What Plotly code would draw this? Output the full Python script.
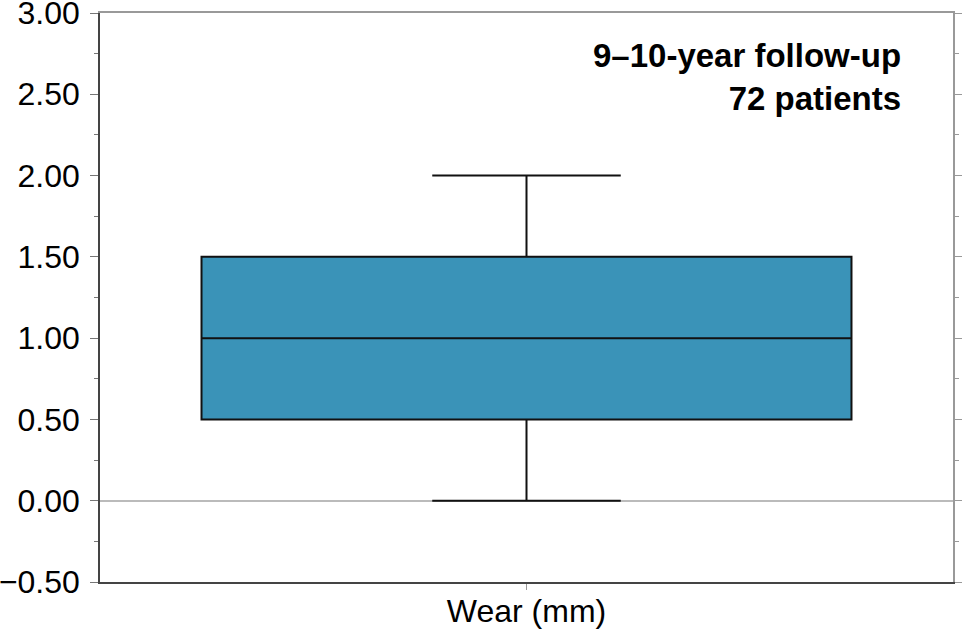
import plotly.graph_objects as go

categories = ["Wear (mm)"]
q1 = [0.5]
median = [1.0]
q3 = [1.5]
lowerfence = [0.0]
upperfence = [2.0]
annotation_lines = ["9–10-year follow-up", "72 patients"]

FONT = "Liberation Sans, Arial, Helvetica, sans-serif"

fig = go.Figure()
fig.add_trace(go.Box(
    x=categories, q1=q1, median=median, q3=q3,
    lowerfence=lowerfence, upperfence=upperfence,
    fillcolor="#3a93b8", line=dict(color="#111111", width=2),
    width=0.762, whiskerwidth=0.29, boxpoints=False, showlegend=False,
    hoverinfo="skip",
))
fig.add_trace(go.Scatter(x=[0], y=[0], xaxis="x2", yaxis="y2", mode="markers",
                         marker=dict(opacity=0), showlegend=False, hoverinfo="skip"))

fig.update_layout(
    width=965, height=637,
    margin=dict(l=100, r=12, t=13, b=55),
    paper_bgcolor="white", plot_bgcolor="white",
    font=dict(family=FONT, size=32, color="#000000"),
    xaxis=dict(
        range=[-0.5, 0.5], showline=True, linecolor="#444444", linewidth=1.5,
        ticks="outside", ticklen=6, tickcolor="#999999", showgrid=False,
        zeroline=False, tickfont=dict(size=32), fixedrange=True, automargin=False,
        ticklabelstandoff=-6,
    ),
    yaxis=dict(
        range=[-0.5, 3.0], dtick=0.5, tick0=0, tickformat=".2f",
        showline=True, linecolor="#444444", linewidth=1.5,
        ticks="outside", ticklen=8, tickcolor="#777777",
        minor=dict(dtick=0.25, ticks="outside", ticklen=4, tickcolor="#777777"),
        showgrid=False, zeroline=True, zerolinecolor="#bbbbbb", zerolinewidth=1.5,
        tickfont=dict(size=32), ticklabelstandoff=4, automargin=False,
        ticklabeloverflow="allow",
    ),
    xaxis2=dict(
        overlaying="x", side="top", range=[-0.5, 0.5], showline=True,
        linecolor="#999999", linewidth=1.5, showticklabels=False, ticks="",
        showgrid=False, zeroline=False, automargin=False,
    ),
    yaxis2=dict(
        overlaying="y", side="right", range=[-0.5, 3.0], dtick=0.5, tick0=0,
        showline=True, linecolor="#999999", linewidth=1.5, showticklabels=False,
        ticks="outside", ticklen=7, tickcolor="#999999",
        minor=dict(dtick=0.25, ticks="outside", ticklen=4, tickcolor="#999999"),
        showgrid=False, zeroline=False, automargin=False,
    ),
    annotations=[dict(
        xref="paper", yref="paper", x=0.9414, y=0.962, xanchor="right", yanchor="top",
        align="right", showarrow=False,
        text="<br>".join(f"<b>{t}</b>" for t in annotation_lines),
        font=dict(family=FONT, size=33, color="#000000"),
    )],
)

# remove the browser's default 8px body margin so the figure fills the window
fig.write_html("out.html", config={"displayModeBar": False},
               post_script="document.body.style.margin='0';document.body.style.overflow='hidden';")
